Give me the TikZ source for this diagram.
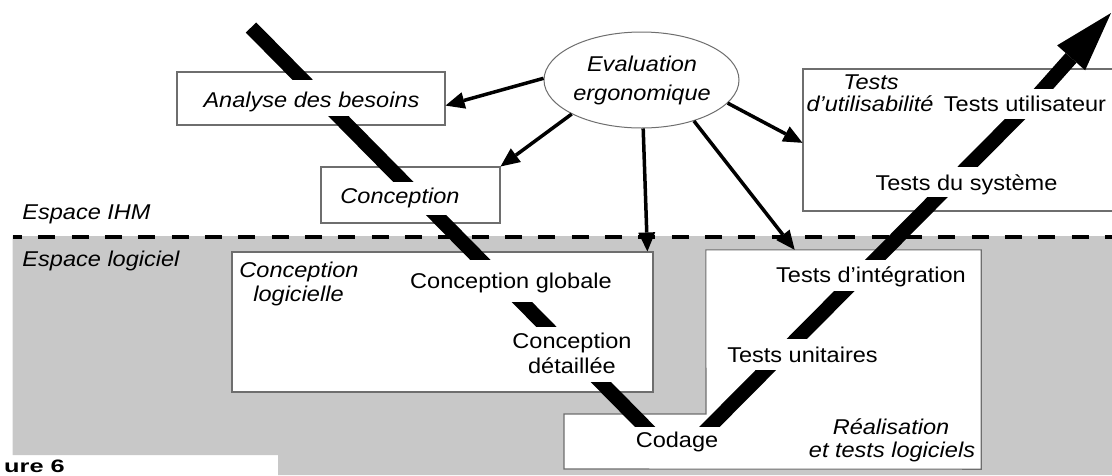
\documentclass[tikz,border=0pt]{standalone}
\usepackage{fontspec}
\usepackage{graphicx}
\setmainfont{Liberation Sans}[FakeStretch=1.1]
\usetikzlibrary{shapes.geometric,arrows.meta}
\definecolor{bggray}{RGB}{200,200,200}
\definecolor{edgegray}{RGB}{110,110,110}
\newcommand{\fs}{\fontsize{21.4}{25}\selectfont}
\tikzset{
  boxstyle/.style={draw=edgegray, line width=1.1pt, fill=white, inner sep=0pt},
  lab/.style={fill=white, inner xsep=3pt, inner ysep=0pt, font=\fs},
  txt/.style={inner sep=0pt, font=\fs, anchor=base},
  vbar/.style={line width=14.5pt, line cap=butt, black},
  evarrow/.style={line width=3.5pt, black, -{Triangle[length=19pt,width=17pt,line width=0pt 0 0]}},
  dashline/.style={line width=4pt, black, dash pattern=on 17pt off 16.33pt, dash phase=7.7pt}
}
\begin{document}
\begin{tikzpicture}[x=1pt,y=-1pt]
\useasboundingbox (0,0) rectangle (1112,475);
% grey software space
\fill[bggray] (12.7,236) -- (1112,236) -- (1112,475) -- (278,475) -- (278,455) -- (12.7,455) -- cycle;
% boxes
\node[boxstyle, minimum width=268pt, minimum height=53pt] (boxAnalyse) at (311,98.5) {};
\node[boxstyle, minimum width=179pt, minimum height=56pt] (boxConc) at (410.5,195) {};
\node[boxstyle, minimum width=322pt, minimum height=142pt] (boxTU) at (964,140) {};
\node[boxstyle, minimum width=421pt, minimum height=140pt] (boxCL) at (442.5,322) {};
\node[inner sep=0pt, minimum width=275pt, minimum height=219pt] (boxRT) at (843.5,359.5) {};
\draw[boxstyle] (564,414) -- (706,414) -- (boxRT.north west) -- (boxRT.north east) -- (boxRT.south east) -- (564,469) -- cycle;
% ellipse
\node[ellipse, draw=edgegray, line width=1pt, fill=white, minimum width=195pt, minimum height=96pt, inner sep=0pt] (eval) at (641.5,80) {};
% dashed boundary
\draw[dashline] (12.7,237) -- (1112,237);
% V-cycle bars
\coordinate (vstart) at (251,27.5);
\coordinate (vertex) at (677.2,459.4);
\coordinate (ubend) at (1030,104);
\coordinate (vtip) at (1111,13);
\draw[vbar] (vstart) -- (vertex);
\draw[vbar, -{Triangle[length=60pt,width=37.5pt,line width=0pt 0 0]}] (vertex) -- (ubend) -- (vtip);
% labels on the V
\node[lab, text height=27.1pt, text depth=8.9pt] (analyse) at (311.5,98) {\itshape Analyse des besoins};
\node[lab, text height=21.1pt, text depth=11.9pt] (conc) at (400,198.5) {\itshape Conception};
\node[lab, text height=28.6pt, text depth=13.4pt] (cglob) at (511,281) {Conception globale};
\node[lab, text height=21.8pt, text depth=5.2pt] (cdet1) at (572,340.5) {Conception};
\node[lab, text height=19.8pt, text depth=8.2pt] (cdet2) at (572,368) {détaillée};
\node[lab, inner xsep=5pt, text height=20.9pt, text depth=19.1pt] (codage) at (677,447) {Codage};
\node[lab, text height=23pt, text depth=8pt] (tunit) at (802.5,354.5) {Tests unitaires};
\node[lab, text height=22.1pt, text depth=8.9pt] (tinteg) at (871,275.5) {Tests d’intégration};
\node[lab, text height=23.1pt, text depth=6.9pt] (tsys) at (966.5,182) {Tests du système};
\node[lab, text height=22.8pt, text depth=7.2pt] (tutil) at (1025,104) {Tests utilisateur};
% other texts
\node[txt] (evt1) at (642,71.7) {\itshape Evaluation};
\node[txt] (evt2) at (642,100) {\itshape ergonomique};
\node[txt] (tu1) at (871,89) {\itshape Tests};
\node[txt] (tu2) at (870,111.7) {\itshape d’utilisabilité};
\node[txt] (ihm) at (86.5,219) {\itshape Espace IHM};
\node[txt] (logi) at (101,266.3) {\itshape Espace logiciel};
\node[txt] (cl1) at (299,277) {\itshape Conception};
\node[txt] (cl2) at (298.5,301) {\itshape logicielle};
\node[txt] (rt1) at (891,434.3) {\itshape Réalisation};
\node[txt] (rt2) at (892,457.7) {\itshape et tests logiciels};
% arrows from ergonomic evaluation
\draw[evarrow] (eval.179) -- (boxAnalyse.-3.6);
\draw[evarrow] (eval.206) -- (boxConc.north east);
\draw[evarrow] (eval.-88) -- (boxCL.19.7);
\draw[evarrow] (eval.-38) -- (boxRT.114.3);
\draw[evarrow] (eval.-15) -- (boxTU.181.4);
% figure caption (only its end is visible)
\node[inner sep=0pt, anchor=base east] (fig) at (65,472.3) {\scalebox{1.28}[1]{\fontsize{18}{20}\selectfont\bfseries ure 6}};
\end{tikzpicture}
\end{document}
